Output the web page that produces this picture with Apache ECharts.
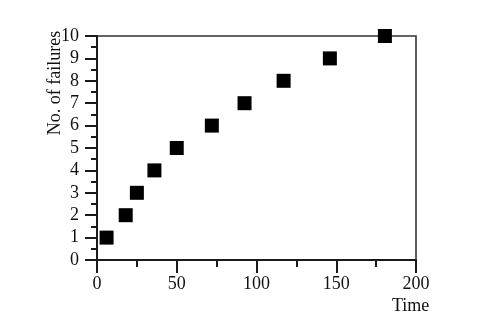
<!DOCTYPE html>
<html>
<head>
<meta charset="utf-8">
<script src="https://cdn.jsdelivr.net/npm/echarts@6/dist/echarts.min.js"></script>
<style>html,body{margin:0;padding:0;background:#fff}#c{width:501px;height:326px}</style>
</head>
<body>
<div id="c"></div>
<script>
const timeValues = [6, 18, 25, 36, 50, 72, 92.5, 117, 146, 180.5];
const failureCounts = [1, 2, 3, 4, 5, 6, 7, 8, 9, 10];
const xTitle = 'Time';
const yTitle = 'No. of failures';

const points = timeValues.map((t, i) => [t, failureCounts[i]]);
const font = 'Liberation Serif';
const ink = '#1a1a1a';

const chart = echarts.init(document.getElementById('c'), null, {renderer: 'canvas'});
chart.setOption({
  animation: false,
  backgroundColor: '#fff',
  grid: {left: 97, top: 36, right: 85, bottom: 66, show: true, borderColor: '#333', borderWidth: 1.6, backgroundColor: 'transparent'},
  xAxis: {
    type: 'value', min: 0, max: 200, interval: 50,
    axisLine: {show: true, onZero: false, lineStyle: {color: ink, width: 2}},
    axisTick: {show: true, inside: false, length: 13, lineStyle: {color: ink, width: 2}},
    minorTick: {show: true, splitNumber: 2, length: 7, lineStyle: {color: ink, width: 2}},
    splitLine: {show: false},
    axisLabel: {color: '#111', fontFamily: font, fontSize: 18, margin: 15}
  },
  yAxis: {
    type: 'value', min: 0, max: 10, interval: 1,
    axisLine: {show: true, onZero: false, lineStyle: {color: ink, width: 2}},
    axisTick: {show: true, inside: false, length: 12, lineStyle: {color: ink, width: 2}},
    minorTick: {show: true, splitNumber: 2, length: 6, lineStyle: {color: ink, width: 2}},
    splitLine: {show: false},
    axisLabel: {color: '#111', fontFamily: font, fontSize: 18, margin: 18}
  },
  graphic: [
    {type: 'text', left: 392, top: 297, style: {text: xTitle, font: '18px "Liberation Serif"', fill: '#111'}},
    {type: 'text', x: 55, y: 83, rotation: Math.PI / 2, style: {text: yTitle, font: '18px "Liberation Serif"', fill: '#111', align: 'center', verticalAlign: 'middle'}}
  ],
  series: [{
    type: 'scatter', data: points, symbol: 'rect', symbolSize: 14, clip: false,
    itemStyle: {color: '#000', opacity: 1}
  }]
});
</script>
</body>
</html>
